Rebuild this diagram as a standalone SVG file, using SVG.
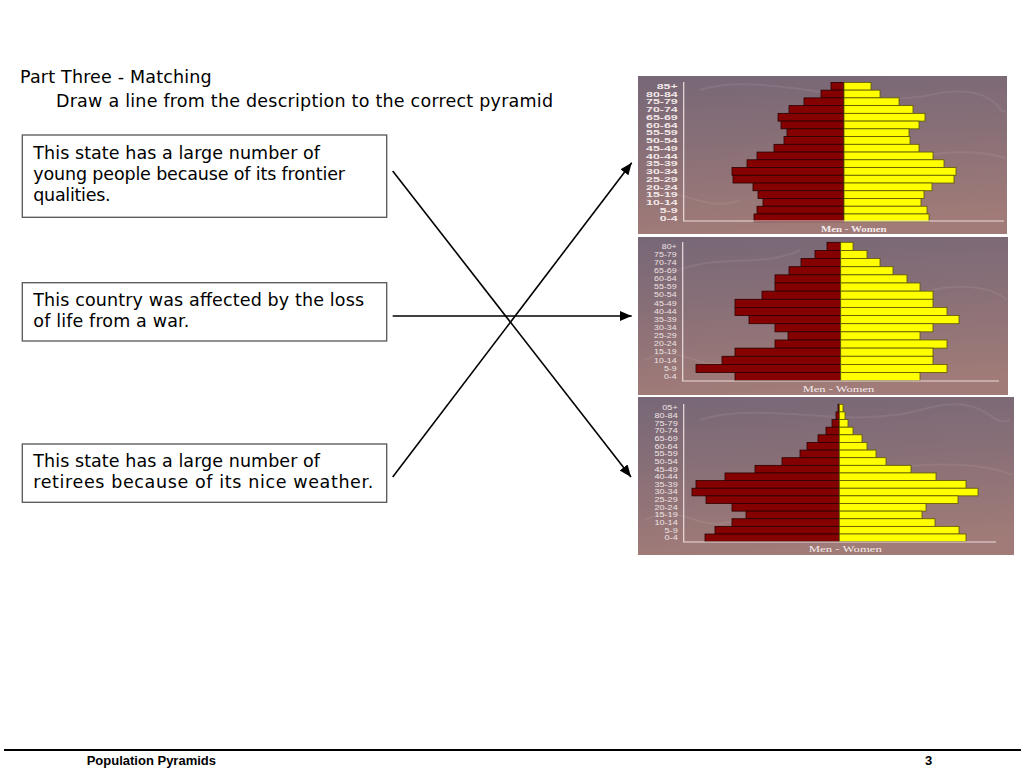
<svg xmlns="http://www.w3.org/2000/svg" width="1024" height="768" viewBox="0 0 1024 768">
<defs>
<linearGradient id="bg" x1="0" y1="0" x2="0.15" y2="1">
<stop offset="0" stop-color="#776777"/>
<stop offset="0.5" stop-color="#8a7077"/>
<stop offset="1" stop-color="#a07b78"/>
</linearGradient>
<marker id="arr" markerUnits="userSpaceOnUse" markerWidth="14" markerHeight="12" refX="12" refY="5" orient="auto">
<path d="M0,0 L12,5 L0,10 z" fill="#000"/>
</marker>
</defs>
<style>
.t{font-family:"DejaVu Sans","Liberation Sans",sans-serif;font-size:17.5px;fill:#000}
.box{fill:#fff;stroke:#555;stroke-width:1.3}
.con{stroke:#000;stroke-width:1.6;fill:none;marker-end:url(#arr)}
.m{fill:#850000;stroke:#2a0000;stroke-width:0.8}
.w{fill:#ffff00;stroke:#5a5500;stroke-width:0.8}
.ax{stroke:#ecdcdc;stroke-width:1.2;fill:none}
.sw{stroke:#ffffff;stroke-opacity:0.07;stroke-width:2;fill:none}
.lb1{font-family:"Liberation Sans",Arial,sans-serif;font-weight:bold;font-size:7.5px;fill:#f2e8e8;text-anchor:end}
.lb2{font-family:"Liberation Sans",Arial,sans-serif;font-size:6.8px;fill:#eee2e2;text-anchor:end}
.lb3{font-family:"Liberation Sans",Arial,sans-serif;font-size:7px;fill:#f0e4e4;text-anchor:end}
.mw{font-family:"Liberation Serif","Times New Roman",serif;font-size:8.5px;fill:#f4ecec;text-anchor:middle}
</style>
<rect width="1024" height="768" fill="#fff"/>

<g id="title">
<text class="t" x="20" y="83.3" textLength="191.7">Part Three - Matching</text>
<text class="t" x="56" y="107" textLength="497">Draw a line from the description to the correct pyramid</text>
</g>

<g id="box1">
<rect class="box" x="22.3" y="135" width="364.4" height="82.3"/>
<text class="t" x="33.3" y="158.5" textLength="286.7">This state has a large number of</text>
<text class="t" x="33.3" y="179.5" textLength="311.7">young people because of its frontier</text>
<text class="t" x="33.3" y="200.5" textLength="77.3">qualities.</text>
</g>

<g id="box2">
<rect class="box" x="22.3" y="282.7" width="364.4" height="58.3"/>
<text class="t" x="33.3" y="305.5" textLength="330.7">This country was affected by the loss</text>
<text class="t" x="33.3" y="326.5" textLength="156">of life from a war.</text>
</g>

<g id="box3">
<rect class="box" x="22.3" y="444" width="364.4" height="58.3"/>
<text class="t" x="33.3" y="466.8" textLength="286.7">This state has a large number of</text>
<text class="t" x="33.3" y="487.8" textLength="340">retirees because of its nice weather.</text>
</g>

<g id="pyramid1">
<rect x="638" y="76" width="369" height="158" fill="url(#bg)"/>
<path class="sw" d="M700,90 C760,70 860,110 930,95 S1000,120 1005,110"/>
<path class="sw" d="M900,160 C940,150 980,150 1006,158"/>
<path class="sw" d="M645,200 C680,180 700,215 740,200"/>
<g transform="translate(844,82.4)">
<rect class="m" x="-13" y="0" width="13" height="7.74"/>
<rect class="m" x="-23" y="7.74" width="23" height="7.74"/>
<rect class="m" x="-40" y="15.48" width="40" height="7.74"/>
<rect class="m" x="-55" y="23.22" width="55" height="7.74"/>
<rect class="m" x="-66" y="30.96" width="66" height="7.74"/>
<rect class="m" x="-63" y="38.7" width="63" height="7.74"/>
<rect class="m" x="-57" y="46.44" width="57" height="7.74"/>
<rect class="m" x="-60" y="54.18" width="60" height="7.74"/>
<rect class="m" x="-70" y="61.92" width="70" height="7.74"/>
<rect class="m" x="-87" y="69.66" width="87" height="7.74"/>
<rect class="m" x="-97" y="77.4" width="97" height="7.74"/>
<rect class="m" x="-112" y="85.14" width="112" height="7.74"/>
<rect class="m" x="-111" y="92.88" width="111" height="7.74"/>
<rect class="m" x="-91" y="100.62" width="91" height="7.74"/>
<rect class="m" x="-86" y="108.36" width="86" height="7.74"/>
<rect class="m" x="-81" y="116.1" width="81" height="7.74"/>
<rect class="m" x="-87" y="123.84" width="87" height="7.74"/>
<rect class="m" x="-90" y="131.58" width="90" height="7.74"/>
<rect class="w" x="0" y="0" width="27" height="7.74"/>
<rect class="w" x="0" y="7.74" width="36" height="7.74"/>
<rect class="w" x="0" y="15.48" width="55" height="7.74"/>
<rect class="w" x="0" y="23.22" width="69" height="7.74"/>
<rect class="w" x="0" y="30.96" width="81" height="7.74"/>
<rect class="w" x="0" y="38.7" width="75" height="7.74"/>
<rect class="w" x="0" y="46.44" width="65" height="7.74"/>
<rect class="w" x="0" y="54.18" width="66" height="7.74"/>
<rect class="w" x="0" y="61.92" width="75" height="7.74"/>
<rect class="w" x="0" y="69.66" width="89" height="7.74"/>
<rect class="w" x="0" y="77.4" width="100" height="7.74"/>
<rect class="w" x="0" y="85.14" width="112" height="7.74"/>
<rect class="w" x="0" y="92.88" width="110" height="7.74"/>
<rect class="w" x="0" y="100.62" width="88" height="7.74"/>
<rect class="w" x="0" y="108.36" width="80" height="7.74"/>
<rect class="w" x="0" y="116.1" width="77" height="7.74"/>
<rect class="w" x="0" y="123.84" width="83" height="7.74"/>
<rect class="w" x="0" y="131.58" width="85" height="7.74"/>
</g>
<path class="ax" d="M683.7,82 V221 H1004"/>
<g transform="translate(677.7,82.4) scale(1.65,1)">
<text class="lb1" x="0" y="6.6">85+</text>
<text class="lb1" x="0" y="14.34">80-84</text>
<text class="lb1" x="0" y="22.08">75-79</text>
<text class="lb1" x="0" y="29.82">70-74</text>
<text class="lb1" x="0" y="37.56">65-69</text>
<text class="lb1" x="0" y="45.3">60-64</text>
<text class="lb1" x="0" y="53.04">55-59</text>
<text class="lb1" x="0" y="60.78">50-54</text>
<text class="lb1" x="0" y="68.52">45-49</text>
<text class="lb1" x="0" y="76.26">40-44</text>
<text class="lb1" x="0" y="84">35-39</text>
<text class="lb1" x="0" y="91.74">30-34</text>
<text class="lb1" x="0" y="99.48">25-29</text>
<text class="lb1" x="0" y="107.22">20-24</text>
<text class="lb1" x="0" y="114.96">15-19</text>
<text class="lb1" x="0" y="122.7">10-14</text>
<text class="lb1" x="0" y="130.44">5-9</text>
<text class="lb1" x="0" y="138.18">0-4</text>
</g>
<text class="mw" x="853.8" y="231.7" font-weight="bold" textLength="65.7" lengthAdjust="spacingAndGlyphs">Men - Women</text>
</g>

<g id="pyramid2">
<rect x="638" y="237" width="370" height="158" fill="url(#bg)"/>
<path class="sw" d="M660,280 C700,250 760,270 800,250"/>
<path class="sw" d="M900,300 C950,280 990,285 1007,300"/>
<path class="sw" d="M645,360 C680,340 700,375 730,360"/>
<g transform="translate(840.7,242.3)">
<rect class="m" x="-13.7" y="0" width="13.7" height="8.14"/>
<rect class="m" x="-25.7" y="8.14" width="25.7" height="8.14"/>
<rect class="m" x="-39.7" y="16.28" width="39.7" height="8.14"/>
<rect class="m" x="-51.7" y="24.42" width="51.7" height="8.14"/>
<rect class="m" x="-65.7" y="32.56" width="65.7" height="8.14"/>
<rect class="m" x="-65.7" y="40.7" width="65.7" height="8.14"/>
<rect class="m" x="-78.7" y="48.84" width="78.7" height="8.14"/>
<rect class="m" x="-105.7" y="56.98" width="105.7" height="8.14"/>
<rect class="m" x="-105.7" y="65.12" width="105.7" height="8.14"/>
<rect class="m" x="-91.7" y="73.26" width="91.7" height="8.14"/>
<rect class="m" x="-65.7" y="81.4" width="65.7" height="8.14"/>
<rect class="m" x="-52.7" y="89.54" width="52.7" height="8.14"/>
<rect class="m" x="-65.7" y="97.68" width="65.7" height="8.14"/>
<rect class="m" x="-105.7" y="105.82" width="105.7" height="8.14"/>
<rect class="m" x="-118.7" y="113.96" width="118.7" height="8.14"/>
<rect class="m" x="-144.7" y="122.1" width="144.7" height="8.14"/>
<rect class="m" x="-105.7" y="130.24" width="105.7" height="8.14"/>
<rect class="w" x="0" y="0" width="12.3" height="8.14"/>
<rect class="w" x="0" y="8.14" width="26.3" height="8.14"/>
<rect class="w" x="0" y="16.28" width="39.3" height="8.14"/>
<rect class="w" x="0" y="24.42" width="52.3" height="8.14"/>
<rect class="w" x="0" y="32.56" width="66.3" height="8.14"/>
<rect class="w" x="0" y="40.7" width="79.3" height="8.14"/>
<rect class="w" x="0" y="48.84" width="92.3" height="8.14"/>
<rect class="w" x="0" y="56.98" width="92.3" height="8.14"/>
<rect class="w" x="0" y="65.12" width="106.3" height="8.14"/>
<rect class="w" x="0" y="73.26" width="118.3" height="8.14"/>
<rect class="w" x="0" y="81.4" width="92.3" height="8.14"/>
<rect class="w" x="0" y="89.54" width="79.3" height="8.14"/>
<rect class="w" x="0" y="97.68" width="106.3" height="8.14"/>
<rect class="w" x="0" y="105.82" width="92.3" height="8.14"/>
<rect class="w" x="0" y="113.96" width="92.3" height="8.14"/>
<rect class="w" x="0" y="122.1" width="106.3" height="8.14"/>
<rect class="w" x="0" y="130.24" width="79.3" height="8.14"/>
</g>
<path class="ax" d="M682.7,242 V381 H999"/>
<g transform="translate(676.7,242.3) scale(1.3,1)">
<text class="lb2" x="0" y="6.3">80+</text>
<text class="lb2" x="0" y="14.44">75-79</text>
<text class="lb2" x="0" y="22.58">70-74</text>
<text class="lb2" x="0" y="30.72">65-69</text>
<text class="lb2" x="0" y="38.86">60-64</text>
<text class="lb2" x="0" y="47">55-59</text>
<text class="lb2" x="0" y="55.14">50-54</text>
<text class="lb2" x="0" y="63.28">45-49</text>
<text class="lb2" x="0" y="71.42">40-44</text>
<text class="lb2" x="0" y="79.56">35-39</text>
<text class="lb2" x="0" y="87.7">30-34</text>
<text class="lb2" x="0" y="95.84">25-29</text>
<text class="lb2" x="0" y="103.98">20-24</text>
<text class="lb2" x="0" y="112.12">15-19</text>
<text class="lb2" x="0" y="120.26">10-14</text>
<text class="lb2" x="0" y="128.4">5-9</text>
<text class="lb2" x="0" y="136.54">0-4</text>
</g>
<text class="mw" x="838.5" y="391.7" textLength="71.7" lengthAdjust="spacingAndGlyphs">Men - Women</text>
</g>

<g id="pyramid3">
<rect x="638" y="397" width="376" height="158" fill="url(#bg)"/>
<path class="sw" d="M700,420 C760,400 850,430 920,410 S990,430 1010,420"/>
<path class="sw" d="M880,470 C940,460 990,465 1012,475"/>
<path class="sw" d="M645,520 C680,500 700,535 735,520"/>
<g transform="translate(839.3,404.3)">
<rect class="m" x="-1.3" y="0" width="1.3" height="7.63"/>
<rect class="m" x="-3.3" y="7.63" width="3.3" height="7.63"/>
<rect class="m" x="-7.3" y="15.26" width="7.3" height="7.63"/>
<rect class="m" x="-13.3" y="22.89" width="13.3" height="7.63"/>
<rect class="m" x="-21.3" y="30.52" width="21.3" height="7.63"/>
<rect class="m" x="-32.3" y="38.15" width="32.3" height="7.63"/>
<rect class="m" x="-39.3" y="45.78" width="39.3" height="7.63"/>
<rect class="m" x="-57.3" y="53.41" width="57.3" height="7.63"/>
<rect class="m" x="-84.3" y="61.04" width="84.3" height="7.63"/>
<rect class="m" x="-114.3" y="68.67" width="114.3" height="7.63"/>
<rect class="m" x="-143.3" y="76.3" width="143.3" height="7.63"/>
<rect class="m" x="-147.3" y="83.93" width="147.3" height="7.63"/>
<rect class="m" x="-133.3" y="91.56" width="133.3" height="7.63"/>
<rect class="m" x="-107.3" y="99.19" width="107.3" height="7.63"/>
<rect class="m" x="-93.3" y="106.82" width="93.3" height="7.63"/>
<rect class="m" x="-107.3" y="114.45" width="107.3" height="7.63"/>
<rect class="m" x="-124.3" y="122.08" width="124.3" height="7.63"/>
<rect class="m" x="-134.3" y="129.71" width="134.3" height="7.63"/>
<rect class="w" x="0" y="0" width="3.7" height="7.63"/>
<rect class="w" x="0" y="7.63" width="5.7" height="7.63"/>
<rect class="w" x="0" y="15.26" width="8.7" height="7.63"/>
<rect class="w" x="0" y="22.89" width="13.7" height="7.63"/>
<rect class="w" x="0" y="30.52" width="22.7" height="7.63"/>
<rect class="w" x="0" y="38.15" width="27.7" height="7.63"/>
<rect class="w" x="0" y="45.78" width="36.7" height="7.63"/>
<rect class="w" x="0" y="53.41" width="46.7" height="7.63"/>
<rect class="w" x="0" y="61.04" width="71.7" height="7.63"/>
<rect class="w" x="0" y="68.67" width="96.7" height="7.63"/>
<rect class="w" x="0" y="76.3" width="126.7" height="7.63"/>
<rect class="w" x="0" y="83.93" width="138.7" height="7.63"/>
<rect class="w" x="0" y="91.56" width="118.7" height="7.63"/>
<rect class="w" x="0" y="99.19" width="86.7" height="7.63"/>
<rect class="w" x="0" y="106.82" width="82.7" height="7.63"/>
<rect class="w" x="0" y="114.45" width="95.7" height="7.63"/>
<rect class="w" x="0" y="122.08" width="119.7" height="7.63"/>
<rect class="w" x="0" y="129.71" width="126.7" height="7.63"/>
</g>
<path class="ax" d="M683.7,404 V542 H996"/>
<g transform="translate(677.7,404.3) scale(1.3,1)">
<text class="lb3" x="0" y="6.2">05+</text>
<text class="lb3" x="0" y="13.83">80-84</text>
<text class="lb3" x="0" y="21.46">75-79</text>
<text class="lb3" x="0" y="29.09">70-74</text>
<text class="lb3" x="0" y="36.72">65-69</text>
<text class="lb3" x="0" y="44.35">60-64</text>
<text class="lb3" x="0" y="51.98">55-59</text>
<text class="lb3" x="0" y="59.61">50-54</text>
<text class="lb3" x="0" y="67.24">45-49</text>
<text class="lb3" x="0" y="74.87">40-44</text>
<text class="lb3" x="0" y="82.5">35-39</text>
<text class="lb3" x="0" y="90.13">30-34</text>
<text class="lb3" x="0" y="97.76">25-29</text>
<text class="lb3" x="0" y="105.39">20-24</text>
<text class="lb3" x="0" y="113.02">15-19</text>
<text class="lb3" x="0" y="120.65">10-14</text>
<text class="lb3" x="0" y="128.28">5-9</text>
<text class="lb3" x="0" y="135.91">0-4</text>
</g>
<text class="mw" x="845.3" y="551.7" textLength="73.3" lengthAdjust="spacingAndGlyphs">Men - Women</text>
</g>

<g id="connectors">
<line class="con" x1="392.7" y1="171" x2="631" y2="477"/>
<line class="con" x1="392.7" y1="316" x2="631.7" y2="316"/>
<line class="con" x1="392.7" y1="477" x2="631.7" y2="162.7"/>
</g>

<g id="footer">
<line x1="4" y1="750" x2="1021" y2="750" stroke="#000" stroke-width="2.2"/>
<text x="86.7" y="765" font-family="Liberation Sans, Arial, sans-serif" font-weight="bold" font-size="13" fill="#000">Population Pyramids</text>
<text x="925" y="765" font-family="Liberation Sans, Arial, sans-serif" font-weight="bold" font-size="13" fill="#000">3</text>
</g>
</svg>
